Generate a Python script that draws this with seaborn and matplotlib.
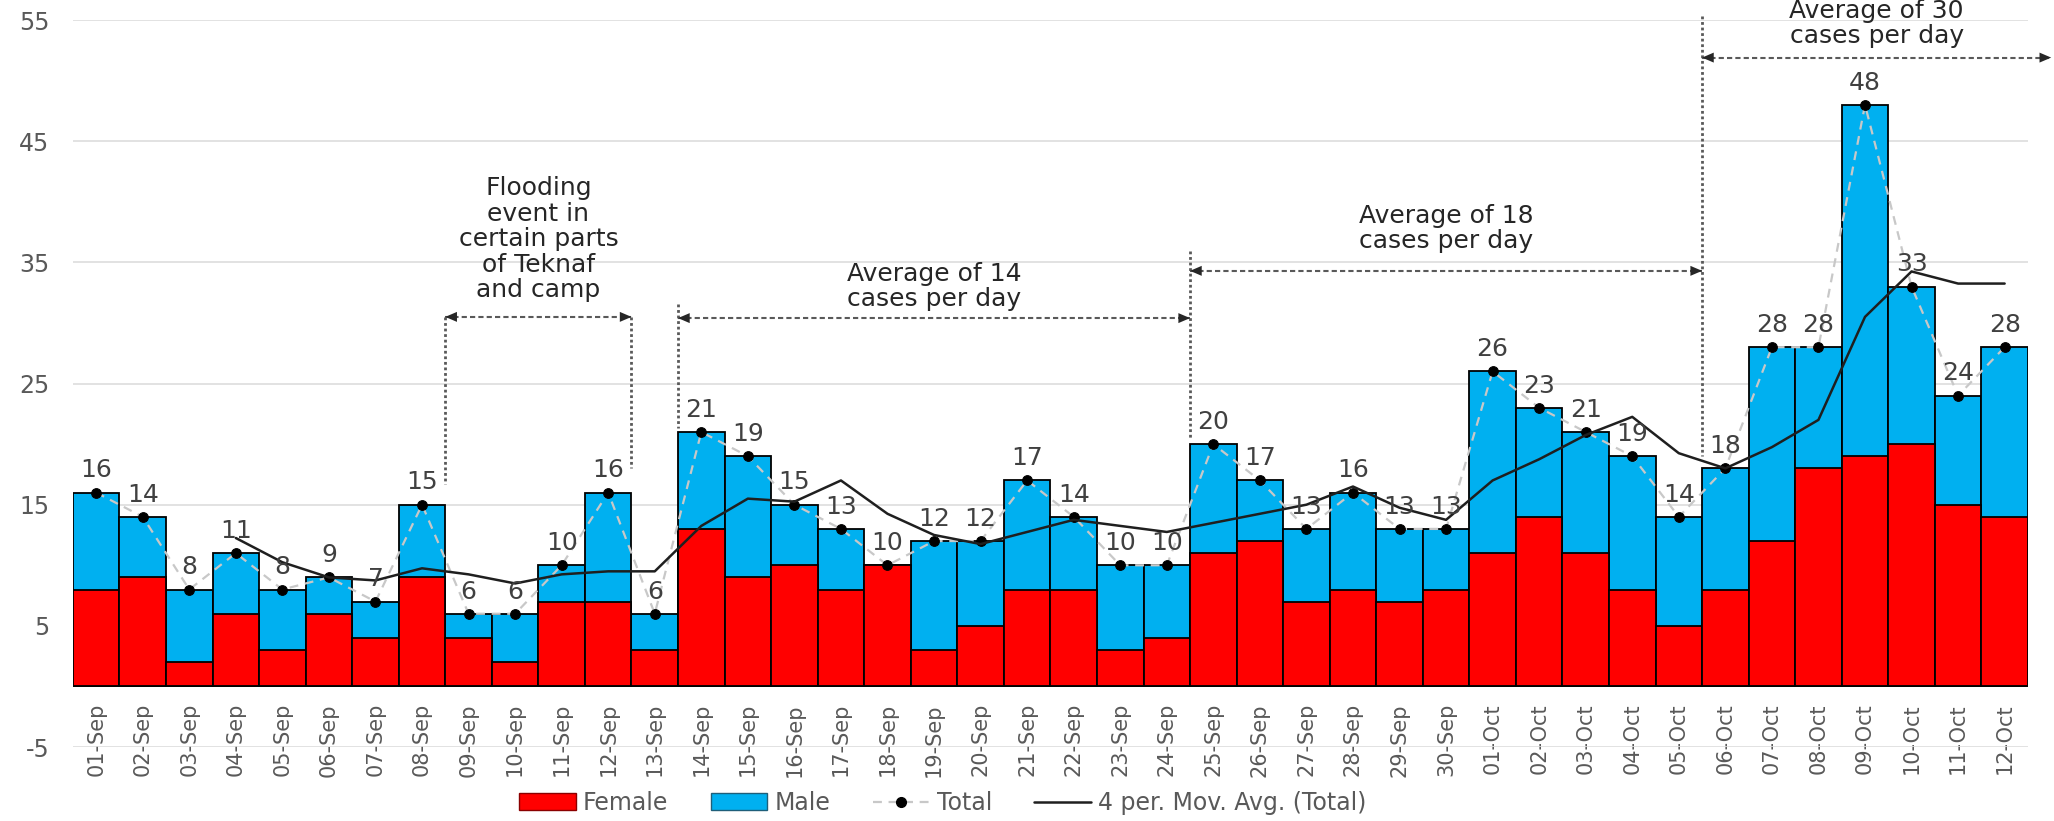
import matplotlib
matplotlib.use("Agg")
import matplotlib.pyplot as plt
import seaborn as sns
import numpy as np
import pandas as pd
from matplotlib.patches import Patch
from matplotlib.lines import Line2D

# daily cases, 01-Sep to 12-Oct
dates = ["01-Sep", "02-Sep", "03-Sep", "04-Sep", "05-Sep", "06-Sep", "07-Sep",
         "08-Sep", "09-Sep", "10-Sep", "11-Sep", "12-Sep", "13-Sep", "14-Sep",
         "15-Sep", "16-Sep", "17-Sep", "18-Sep", "19-Sep", "20-Sep", "21-Sep",
         "22-Sep", "23-Sep", "24-Sep", "25-Sep", "26-Sep", "27-Sep", "28-Sep",
         "29-Sep", "30-Sep", "01-Oct", "02-Oct", "03-Oct", "04-Oct", "05-Oct",
         "06-Oct", "07-Oct", "08-Oct", "09-Oct", "10-Oct", "11-Oct", "12-Oct"]
female = [8, 9, 2, 6, 3, 6, 4, 9, 4, 2, 7, 7, 3, 13, 9, 10, 8, 10, 3, 5, 8,
          8, 3, 4, 11, 12, 7, 8, 7, 8, 11, 14, 11, 8, 5, 8, 12, 18, 19, 20, 15, 14]
total = [16, 14, 8, 11, 8, 9, 7, 15, 6, 6, 10, 16, 6, 21, 19, 15, 13, 10, 12, 12, 17,
         14, 10, 10, 20, 17, 13, 16, 13, 13, 26, 23, 21, 19, 14, 18, 28, 28, 48, 33, 24, 28]
male = [t - f for t, f in zip(total, female)]

# annotation brackets: (text, left, right, arrow y, text y)
notes = [
    ("Flooding\nevent in\ncertain parts\nof Teknaf\nand camp", 7.5, 11.5, 30.5, 36.9),
    ("Average of 14\ncases per day", 12.5, 23.5, 30.4, 33.0),
    ("Average of 18\ncases per day", 23.5, 34.5, 34.3, 37.8),
    ("Average of 30\ncases per day", 34.5, 42.0, 51.9, 54.7),
]
# dotted vertical guides: (x, top, bottom)
guides = [(7.5, 30.5, 16.7), (11.5, 30.5, 18.0), (12.5, 31.6, 21.3),
          (23.5, 35.9, 20.4), (34.5, 55.3, 19.0)]

RED = "#FF0000"
BLUE = "#00B0F0"
GREY_TXT = "#595959"

df = pd.DataFrame({"date": dates, "female": female, "male": male, "total": total})
df["pos"] = np.arange(len(df))
df["ma"] = df["total"].rolling(4).mean()

sns.set_style("white")
plt.rcParams["font.family"] = ["DejaVu Sans"]
plt.rcParams["axes.unicode_minus"] = False

fig = plt.figure(figsize=(20.54, 8.21), dpi=100)
ax = fig.add_axes([0.0355, 0.0901, 0.9518, 0.8855])

# stacked bars: full total in blue, female drawn over the bottom part
sns.barplot(data=df, x="date", y="total", color=BLUE, saturation=1, width=1.0,
            edgecolor="black", linewidth=1.3, ax=ax, zorder=2)
sns.barplot(data=df, x="date", y="female", color=RED, saturation=1, width=1.0,
            edgecolor="black", linewidth=1.3, ax=ax, zorder=2)

sns.lineplot(data=df, x="pos", y="total", color="#C8C8C8", linewidth=1.6,
             linestyle=(0, (4, 3)), marker="o", markersize=7, mfc="black",
             mec="black", sort=False, errorbar=None, ax=ax, zorder=4)
sns.lineplot(data=df.dropna(), x="pos", y="ma", color="#1F1F1F", linewidth=1.8,
             sort=False, errorbar=None, ax=ax, zorder=5)

for p, t in zip(df["pos"], df["total"]):
    ax.annotate(str(t), (p, t), xytext=(0, 16), textcoords="offset points",
                ha="center", va="center", fontsize=18, color="#404040", zorder=6)

# brackets and notes
for x, y0, y1 in guides:
    ax.plot([x, x], [y0, y1], color="#595959", lw=2, ls=(0, (1, 1)),
            clip_on=False, zorder=3)
for txt, x1, x2, y, ty in notes:
    ax.plot([x1, x2], [y, y], color="#595959", lw=1.5, ls=(0, (2.5, 1.5)),
            clip_on=False, zorder=3)
    for tip, tail in ((x1, x1 + 0.4), (x2, x2 - 0.4)):
        ax.annotate("", xy=(tip, y), xytext=(tail, y), annotation_clip=False,
                    arrowprops=dict(arrowstyle="-|>,head_length=0.7,head_width=0.3",
                                    color="#262626", lw=0, shrinkA=0, shrinkB=0,
                                    mutation_scale=12))
    ax.text((x1 + x2) / 2, ty, txt, ha="center", va="center", fontsize=18,
            color="#262626", linespacing=1.08, clip_on=False)

for s in ["top", "right", "left"]:
    ax.spines[s].set_visible(False)
ax.spines["bottom"].set_position(("data", 0))
ax.spines["bottom"].set_color("none")

ax.set_xlim(-0.5, len(dates) - 0.5)
ax.set_ylim(-5, 55)
ax.set_yticks(np.arange(-5, 56, 10))
ax.set_xticks(df["pos"])
ax.set_xticklabels(dates)
ax.set_xlabel("")
ax.set_ylabel("")
ax.yaxis.grid(True, color="#DDDDDD", linewidth=1.2)
ax.set_axisbelow(True)
ax.tick_params(axis="y", length=0, pad=17, labelsize=17, labelcolor=GREY_TXT)
ax.tick_params(axis="x", length=0, pad=12, labelsize=15, labelcolor=GREY_TXT,
               labelrotation=90)

handles = [
    Patch(facecolor=RED, edgecolor="#8B0000", linewidth=1),
    Patch(facecolor=BLUE, edgecolor="#1F5F7A", linewidth=1),
    Line2D([], [], color="#C8C8C8", ls=(0, (4, 3)), lw=1.6, marker="o",
           markersize=7, mfc="black", mec="black"),
    Line2D([], [], color="#1F1F1F", lw=1.8),
]
labels = ["Female", "Male", "Total", "4 per. Mov. Avg. (Total)"]
fig.legend(handles, labels, loc="center", bbox_to_anchor=(0.459, 0.022), ncol=4,
           frameon=False, fontsize=17, handlelength=2.4, handleheight=0.7,
           handletextpad=0.3, columnspacing=1.8, labelcolor=GREY_TXT)

fig.savefig("out.png", dpi=100)
